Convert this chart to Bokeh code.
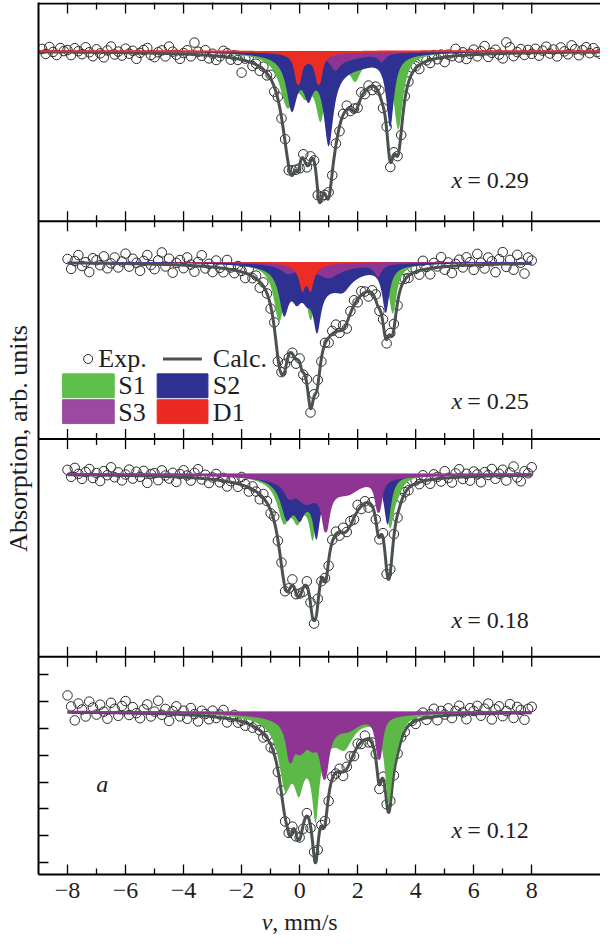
import numpy as np
from bokeh.plotting import figure
from bokeh.layouts import column
from bokeh.models import Range1d, FixedTicker, Span, Label
from bokeh.core.properties import value
from bokeh.embed import file_html
from bokeh.resources import INLINE

# ---------------- data ----------------
# sub-spectrum absorption lines: (position mm/s, depth arb. units, half width mm/s)
X029_S1 = [(-0.42, 48, 0.32), (0.2, 25, 0.25), (0.72, 52, 0.2), (1.92, 18, 0.2), (3.4, 75, 0.2), (1.2, 12, 1.2)]
X029_S2 = [(-0.27, 50, 0.22), (0.3, 30, 0.2), (1.0, 76, 0.2), (2.2, 3, 0.5), (3.12, 70, 0.16), (1.3, 16, 1.2)]
X029_S3 = [(1.23, 12, 0.2), (2.83, 8, 0.15), (1.5, 8, 1.0)]
X029_D1 = [(-0.05, 28, 0.12), (0.66, 28, 0.12), (0.3, 6, 0.5)]

X025_S1 = [(-0.71, 52, 0.22), (-0.2, 15, 0.2), (0.38, 42, 0.17), (1.55, 10, 0.3), (3.21, 48, 0.17), (1.0, 16, 1.1)]
X025_S2 = [(-0.54, 42, 0.2), (-0.1, 20, 0.2), (0.25, 15, 0.2), (0.6, 45, 0.16), (1.5, 10, 0.3), (2.97, 45, 0.15), (1.0, 22, 1.1)]
X025_S3 = [(-0.4, 8, 0.3), (1.0, 8, 0.4), (2.7, 12, 0.15), (0.9, 8, 1.2)]
X025_D1 = [(0.09, 20, 0.12), (0.38, 20, 0.12), (0.24, 8, 0.5)]

X018_S1 = [(-0.55, 36, 0.26), (-0.08, 24, 0.2), (0.45, 40, 0.14), (1.6, 10, 0.35), (3.12, 49, 0.17), (3.4, 9, 0.2), (0.4, 21, 0.9)]
X018_S2 = [(-0.45, 32, 0.24), (0.0, 22, 0.2), (0.58, 42, 0.14), (1.6, 8, 0.35), (3.03, 48, 0.15), (0.4, 20, 0.9)]
X018_S3 = [(-0.35, 12, 0.2), (0.2, 14, 0.35), (0.9, 37, 0.13), (1.7, 8, 0.45), (2.72, 32, 0.12), (0.8, 16, 1.2)]

X012_S1 = [(-0.5, 55, 0.26), (-0.03, 40, 0.2), (0.55, 68, 0.14), (1.55, 22, 0.35), (3.07, 82, 0.17), (3.35, 15, 0.2), (0.4, 35, 0.9)]
X012_S3 = [(-0.33, 30, 0.13), (0.0, 25, 0.3), (0.45, 12, 0.2), (0.86, 46, 0.15), (1.7, 7, 0.4), (2.74, 42, 0.12), (0.8, 15, 1.2)]

# experimental points: scatter about the fit (x = 0.29 runs -8.875 ... 10.375 mm/s, others -8 ... 8)
R029 = [3, -2, 5, 0, -3, 4, 1,
        2, -3, 4, 1, -2, 5, 0, -4, 3, -1, -5, 2, 6, -2, 1, -3,
        4, -1, 2, -6, 0, 3, 5, -2, -4, 1, 3, -3, 7, 2, -1, -5,
        1, 4, -2, 12, 3, -1, 5, -3, 2, -4, 0, 6, 4, -2, 3, -1,
        -13, 2, 5, -3, 1, -4, 3, -2, 4, -5, 2, -1, 3, -4, 5, 1,
        -3, 4, -2, 5, 1, -4, 3, -1, 6, -3, 2, -5, 1, 4, -2, 3,
        -1, 5, -3, 2, -4, 1, 4, -2, 3, -5, 2, 0, -3, 4, 1, 6,
        2, -4, 5, 1, -3, 4, -1, 3, -5, 2, 0, 7, -2, 3, -4, 1,
        5, -2, 3, 8, -3, 1, 4, -1, -5, 11, 6, -3, 1, 4, -2, 3,
        -1, 4, -3, 2, 6, -1, 3, -4, 5, 1, -2, 7, 3, -3, 2, 5,
        -1, 4, 0, -2]
R025 = [4, -6, 2, 8, -3, 1, -9, 5, 3, -2, 7, -5, 0, 6, -4, 2,
        10, -3, 5, 1, -7, 3, 9, -1, -5, 4, 12, -2, 6, -8, 2, 5,
        -3, 8, 1, -6, 4, 11, -2, 3, -5, 7, 0, -4, 9, 2, -3, 5,
        1, -5, 6, -2, 3, -6, 4, 0, -3, 5, -4, 2, 6, -3, 1, -5,
        4, -2, 5, -4, 2, 6, -3, 1, -5, 3, 7, -2, 4, -6, 2, 5,
        -3, 4, 1, -5, 3, 6, -2, 4, -4, 2, 5, -3, 8, 1, -2, 6,
        3, -4, 9, 2, -6, 5, 1, 10, -3, 4, -7, 2, 6, -2, 8, 3,
        -5, 11, 2, -4, 7, 3, -8, 5, 12, -3, 4, -6, 9, 1, -10, 6,
        3]
R018 = [5, -2, 7, 1, -4, 3, 6, -3, 2, -6, 4, 0, 8, -2, 3, -5,
        1, 6, -3, 4, -1, 5, -7, 2, 3, -4, 6, 1, -2, 4, -5, 3,
        7, 2, -3, 5, 9, -1, 4, -4, 2, 6, -2, 3, -5, 1, 4, -3,
        8, 2, -4, 3, 0, -5, 4, 2, -3, 5, -1, 3, -4, 2, 6, -2,
        3, -4, 5, 1, -3, 6, -2, 4, -5, 2, 3, -3, 5, -1, 4, -2,
        6, -3, 2, -5, 4, 1, -2, 5, -4, 3, 2, -3, 4, 1, -2, 5,
        3, -2, 6, 1, -4, 5, 2, -3, 7, 0, -5, 4, 8, -2, 3, -4,
        5, 2, -6, 4, 1, 7, -3, 2, 6, -5, 3, 9, -2, -6, 4, 2,
        8]
R012 = [17, 6, -8, 9, 3, -4, 11, 5, -2, 8, 1, -6, 10, 4, -3, 7,
        12, -2, 6, 0, -5, 4, 9, -3, 2, 13, -1, 5, -7, 3, 8, -2,
        4, -4, 7, 1, -6, 5, 2, -3, 6, -1, 3, 8, -4, 2, 5, -2,
        1, -3, 4, -2, 3, 0, -4, 2, -3, 5, -2, 3, -4, 1, 4, -3,
        2, -4, 3, -2, 5, -3, 1, 4, -5, 2, -1, 3, -4, 2, 5, -3,
        3, -2, 4, -3, 1, 5, -4, 2, -2, 4, -3, 1, 3, -1, 5, 2,
        -3, 4, 6, -2, 3, 8, -4, 5, 1, 7, -3, 4, 9, 2, -5, 6,
        3, 8, -2, 5, 10, -6, 4, 7, -3, 2, 9, -5, 6, 3, -7, 4,
        6]

X_MAJOR = [-8, -6, -4, -2, 0, 2, 4, 6, 8]
X_MINOR = [-7, -5, -3, -1, 1, 3, 5, 7]
X_LABELS = ["\u22128", "\u22126", "\u22124", "\u22122", "0", "2", "4", "6", "8"]
COMP_NAMES = ["S1", "S2", "S3", "D1"]
COMP_COLORS = {"S1": "#5cb947", "S2": "#2e3192", "S3": "#8e3492", "D1": "#ec2d24"}
LEGEND_COLORS = {"S1": "#5ebf4a", "S2": "#2e3192", "S3": "#9c4aa0", "D1": "#ec2a24"}

# ---------------- layout ----------------
PANEL_H = 219.0
X0, X1 = -9.0, 10.37
FONT = "Liberation Serif"
TXT = "#1e1e1e"
Y_TICKS = [12, 39, 66, 93, 120, 147, 174, 201]

PANELS = [  # bottom to top
    dict(x="0.12", comps={"S1": X012_S1, "S3": X012_S3}, resid=R012, base=164, outline="S3", ly=45,
         span=(-8, 8), vexp=(-8, 8)),
    dict(x="0.18", comps={"S1": X018_S1, "S2": X018_S2, "S3": X018_S3}, resid=R018, base=184, outline="S3", ly=37,
         span=(-8, 8), vexp=(-8, 8)),
    dict(x="0.25", comps={"S1": X025_S1, "S2": X025_S2, "S3": X025_S3, "D1": X025_D1}, resid=R025, base=178,
         outline=None, ly=38, span=(-8, 8), vexp=(-8, 8)),
    dict(x="0.29", comps={"S1": X029_S1, "S2": X029_S2, "S3": X029_S3, "D1": X029_D1}, resid=R029, base=171,
         outline="D1", ly=41, span=(X0, X1), vexp=(-8.875, 10.375)),
]


def absorption(v, lines):
    out = np.zeros_like(v, dtype=float)
    for pos, depth, hw in lines:
        out += depth / (1.0 + ((v - pos) / hw) ** 2)
    return out


p = figure(width=600, height=910, output_backend="svg", toolbar_location=None,
           x_range=Range1d(X0, X1), y_range=Range1d(0, 4 * PANEL_H + 1),
           min_border_left=35, min_border_right=0, min_border_top=2, min_border_bottom=36)
p.outline_line_color = None
p.xgrid.visible = False
p.ygrid.visible = False
p.background_fill_color = "white"
p.border_fill_color = "white"

for k, P in enumerate(PANELS):
    off = k * PANEL_H + P["base"]
    comps = P["comps"]
    ev = np.linspace(P["vexp"][0], P["vexp"][1], len(P["resid"]))
    etot = sum(absorption(ev, comps[n]) for n in comps)
    ey = off - etot + np.array(P["resid"], dtype=float)
    p.scatter(ev, ey, marker="circle", size=9.5, fill_color=None, line_color="#2a2a2a", line_width=1.0)

    lo, hi = P["span"]
    vv = np.linspace(lo, hi, 2001)
    ctot = sum(absorption(vv, comps[n]) for n in comps)
    p.line(vv, off - ctot, line_color="#4b514f", line_width=3)

    for n in COMP_NAMES:
        if n not in comps:
            continue
        d = absorption(vv, comps[n])
        p.varea(x=vv, y1=np.full_like(vv, off), y2=off - d, fill_color=COMP_COLORS[n])
        if P["outline"] == n:
            p.line(vv, off - d, line_color=COMP_COLORS[n], line_width=2)

    p.add_layout(Label(x=7.9, y=k * PANEL_H + P["ly"], text="= " + P["x"], text_align="right",
                       text_baseline="middle", text_font=FONT, text_font_size="24px", text_color=TXT))
    p.add_layout(Label(x=5.6, y=k * PANEL_H + P["ly"], text="x", text_align="right",
                       text_baseline="middle", text_font=FONT, text_font_size="24px",
                       text_font_style="italic", text_color=TXT))

# panel boundaries and inner ticks
bounds = [PANEL_H * i for i in range(1, 5)]
for b in bounds:
    p.add_layout(Span(location=b, dimension="width", line_color="black", line_width=2))
p.scatter([x for b in bounds for x in X_MAJOR], [b for b in bounds for x in X_MAJOR],
          marker="dash", angle=np.pi / 2, size=20, line_color="black", line_width=1.3)
p.scatter([x for b in bounds for x in X_MINOR], [b for b in bounds for x in X_MINOR],
          marker="dash", angle=np.pi / 2, size=12, line_color="black", line_width=1.3)

# axes
xa = p.xaxis[0]
xa.ticker = FixedTicker(ticks=X_MAJOR, minor_ticks=X_MINOR)
xa.major_label_overrides = {t: s for t, s in zip(X_MAJOR, X_LABELS)}
xa.major_tick_in, xa.major_tick_out = 10, 0
xa.minor_tick_in, xa.minor_tick_out = 6, 0
xa.axis_line_width = 2
xa.major_tick_line_width = 1.3
xa.minor_tick_line_width = 1.3
xa.major_label_text_font = FONT
xa.major_label_text_font_size = "24px"
xa.major_label_text_color = TXT
xa.major_label_standoff = 8

ya = p.yaxis[0]
ya.ticker = FixedTicker(ticks=Y_TICKS)
ya.major_label_overrides = {t: "" for t in Y_TICKS}
ya.major_tick_in, ya.major_tick_out = 10, 0
ya.minor_tick_line_color = None
ya.axis_line_width = 2
ya.major_tick_line_width = 1.3
ya.major_label_standoff = 0
ya.axis_label = "Absorption, arb. units"
ya.axis_label_text_font = FONT
ya.axis_label_text_font_size = "26px"
ya.axis_label_text_font_style = "normal"
ya.axis_label_text_color = TXT
ya.axis_label_standoff = 6

p.add_layout(Label(x=-6.8, y=91, text="a", text_align="center", text_baseline="middle",
                   text_font=FONT, text_font_size="24px", text_font_style="italic", text_color=TXT))

# legend (panel x = 0.25)
LEG_Y0 = 2 * PANEL_H
p.scatter([-7.29], [LEG_Y0 + 80.5], marker="circle", size=9, fill_color=None, line_color="#2a2a2a", line_width=1)
p.line([-4.71, -3.37], [LEG_Y0 + 80.5, LEG_Y0 + 80.5], line_color="#4b514f", line_width=3)
for txt, x, y in [("Exp.", -6.94, 80.5), ("Calc.", -2.99, 80.5), ("S1", -6.25, 54), ("S2", -2.99, 54),
                  ("S3", -6.25, 27), ("D1", -2.99, 27)]:
    p.add_layout(Label(x=x, y=LEG_Y0 + y, text=txt, text_align="left", text_baseline="middle",
                       text_font=FONT, text_font_size="26px", text_color=TXT))
for n, l, r, b in [("S1", -8.17, -6.39, 41.5), ("S2", -4.91, -3.16, 41.5),
                   ("S3", -8.17, -6.39, 15.5), ("D1", -4.91, -3.16, 15.5)]:
    p.quad(left=l, right=r, bottom=LEG_Y0 + b, top=LEG_Y0 + b + 24, fill_color=LEGEND_COLORS[n],
           line_color=LEGEND_COLORS[n], line_width=1)

# x-axis title (italic v) in a strip under the plot
q = figure(width=600, height=24, output_backend="svg", toolbar_location=None,
           x_range=p.x_range, y_range=Range1d(0, 24),
           min_border_left=35, min_border_right=0, min_border_top=0, min_border_bottom=0)
q.outline_line_color = None
q.xaxis.visible = False
q.yaxis.visible = False
q.xgrid.visible = False
q.ygrid.visible = False
q.text(x=[-0.94], y=[13], text=[", mm/s"], text_align="left", text_baseline="middle",
       text_font=value(FONT), text_font_size=value("24px"), text_color=TXT)
q.text(x=[-0.94], y=[13], text=["v"], text_align="right", text_baseline="middle",
       text_font=value(FONT), text_font_size=value("24px"), text_font_style=value("italic"), text_color=TXT)

layout = column(p, q, spacing=0)
open("out.html", "w").write(file_html(layout, INLINE))
